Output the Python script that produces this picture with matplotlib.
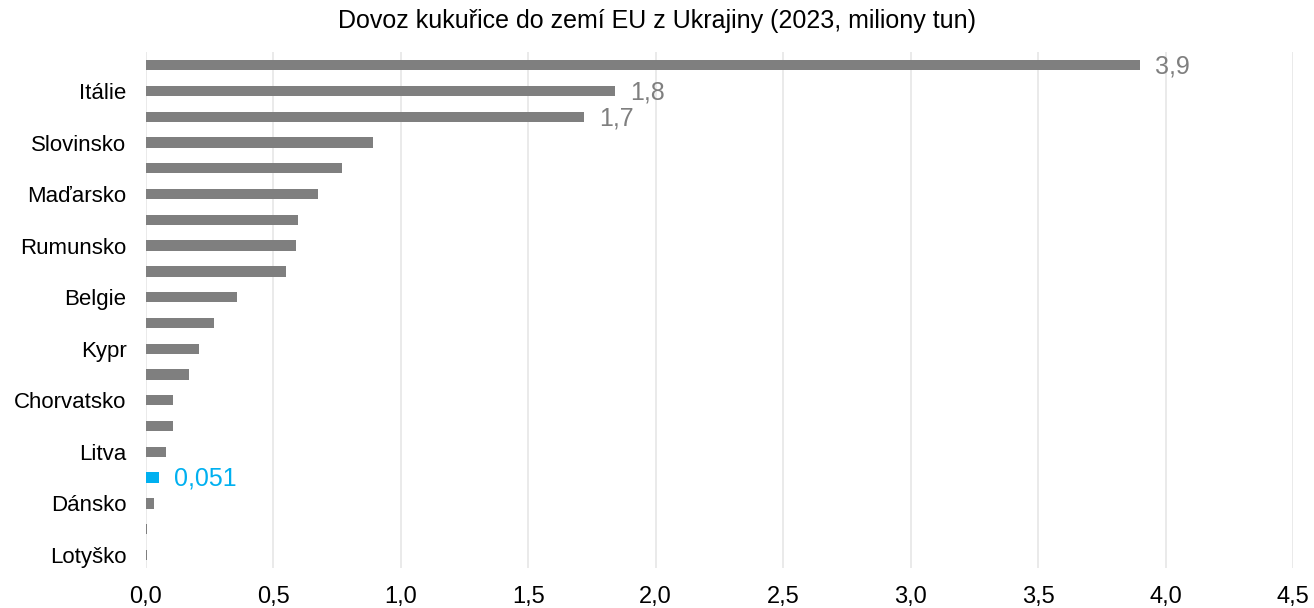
import matplotlib
matplotlib.use("Agg")
import matplotlib.pyplot as plt
import numpy as np

# Data (top to bottom), in millions of tonnes
countries = [
    "Španělsko", "Itálie", "Nizozemsko", "Slovinsko", "Portugalsko",
    "Maďarsko", "Polsko", "Rumunsko", "Německo", "Belgie",
    "Rakousko", "Kypr", "Řecko", "Chorvatsko", "Slovensko",
    "Litva", "Česko", "Dánsko", "Bulharsko", "Lotyško",
]
values = [
    3.90, 1.84, 1.72, 0.89, 0.77,
    0.675, 0.596, 0.588, 0.55, 0.357,
    0.267, 0.208, 0.169, 0.106, 0.105,
    0.078, 0.051, 0.031, 0.006, 0.005,
]
labels = {"Španělsko": "3,9", "Itálie": "1,8", "Nizozemsko": "1,7", "Česko": "0,051"}
highlight = "Česko"

plt.rcParams["font.family"] = ["Liberation Sans", "DejaVu Sans"]

gray = "#7f7f7f"
blue = "#00b0f0"

fig = plt.figure(figsize=(13.14, 6.08), dpi=100)
ax = fig.add_axes([0.111, 0.066, 0.873, 0.848])

y = np.arange(len(countries))
colors = [blue if c == highlight else gray for c in countries]
ax.barh(y, values, height=0.4, color=colors, zorder=3)

for i, c in enumerate(countries):
    if c in labels:
        col = blue if c == highlight else gray
        ax.text(values[i] + 0.06, y[i] + 0.05, labels[c], va="center", ha="left",
                fontsize=18, color=col)

ax.set_ylim(len(countries) - 0.5, -0.5)
ax.set_yticks(y[1::2])
ax.set_yticklabels(countries[1::2], fontsize=16)

ax.set_xlim(0, 4.5)
xt = np.arange(0, 4.51, 0.5)
ax.set_xticks(xt)
ax.set_xticklabels([f"{v:.1f}".replace(".", ",") for v in xt], fontsize=17)

ax.grid(axis="x", color="#e6e6e6", linewidth=1.2, zorder=0)
ax.tick_params(axis="y", length=0, pad=14)
ax.tick_params(axis="x", length=0, pad=13)
for s in ax.spines.values():
    s.set_visible(False)

fig.suptitle("Dovoz kukuřice do zemí EU z Ukrajiny (2023, miliony tun)",
             fontsize=18, y=0.985)

fig.savefig("out.png", dpi=100)
